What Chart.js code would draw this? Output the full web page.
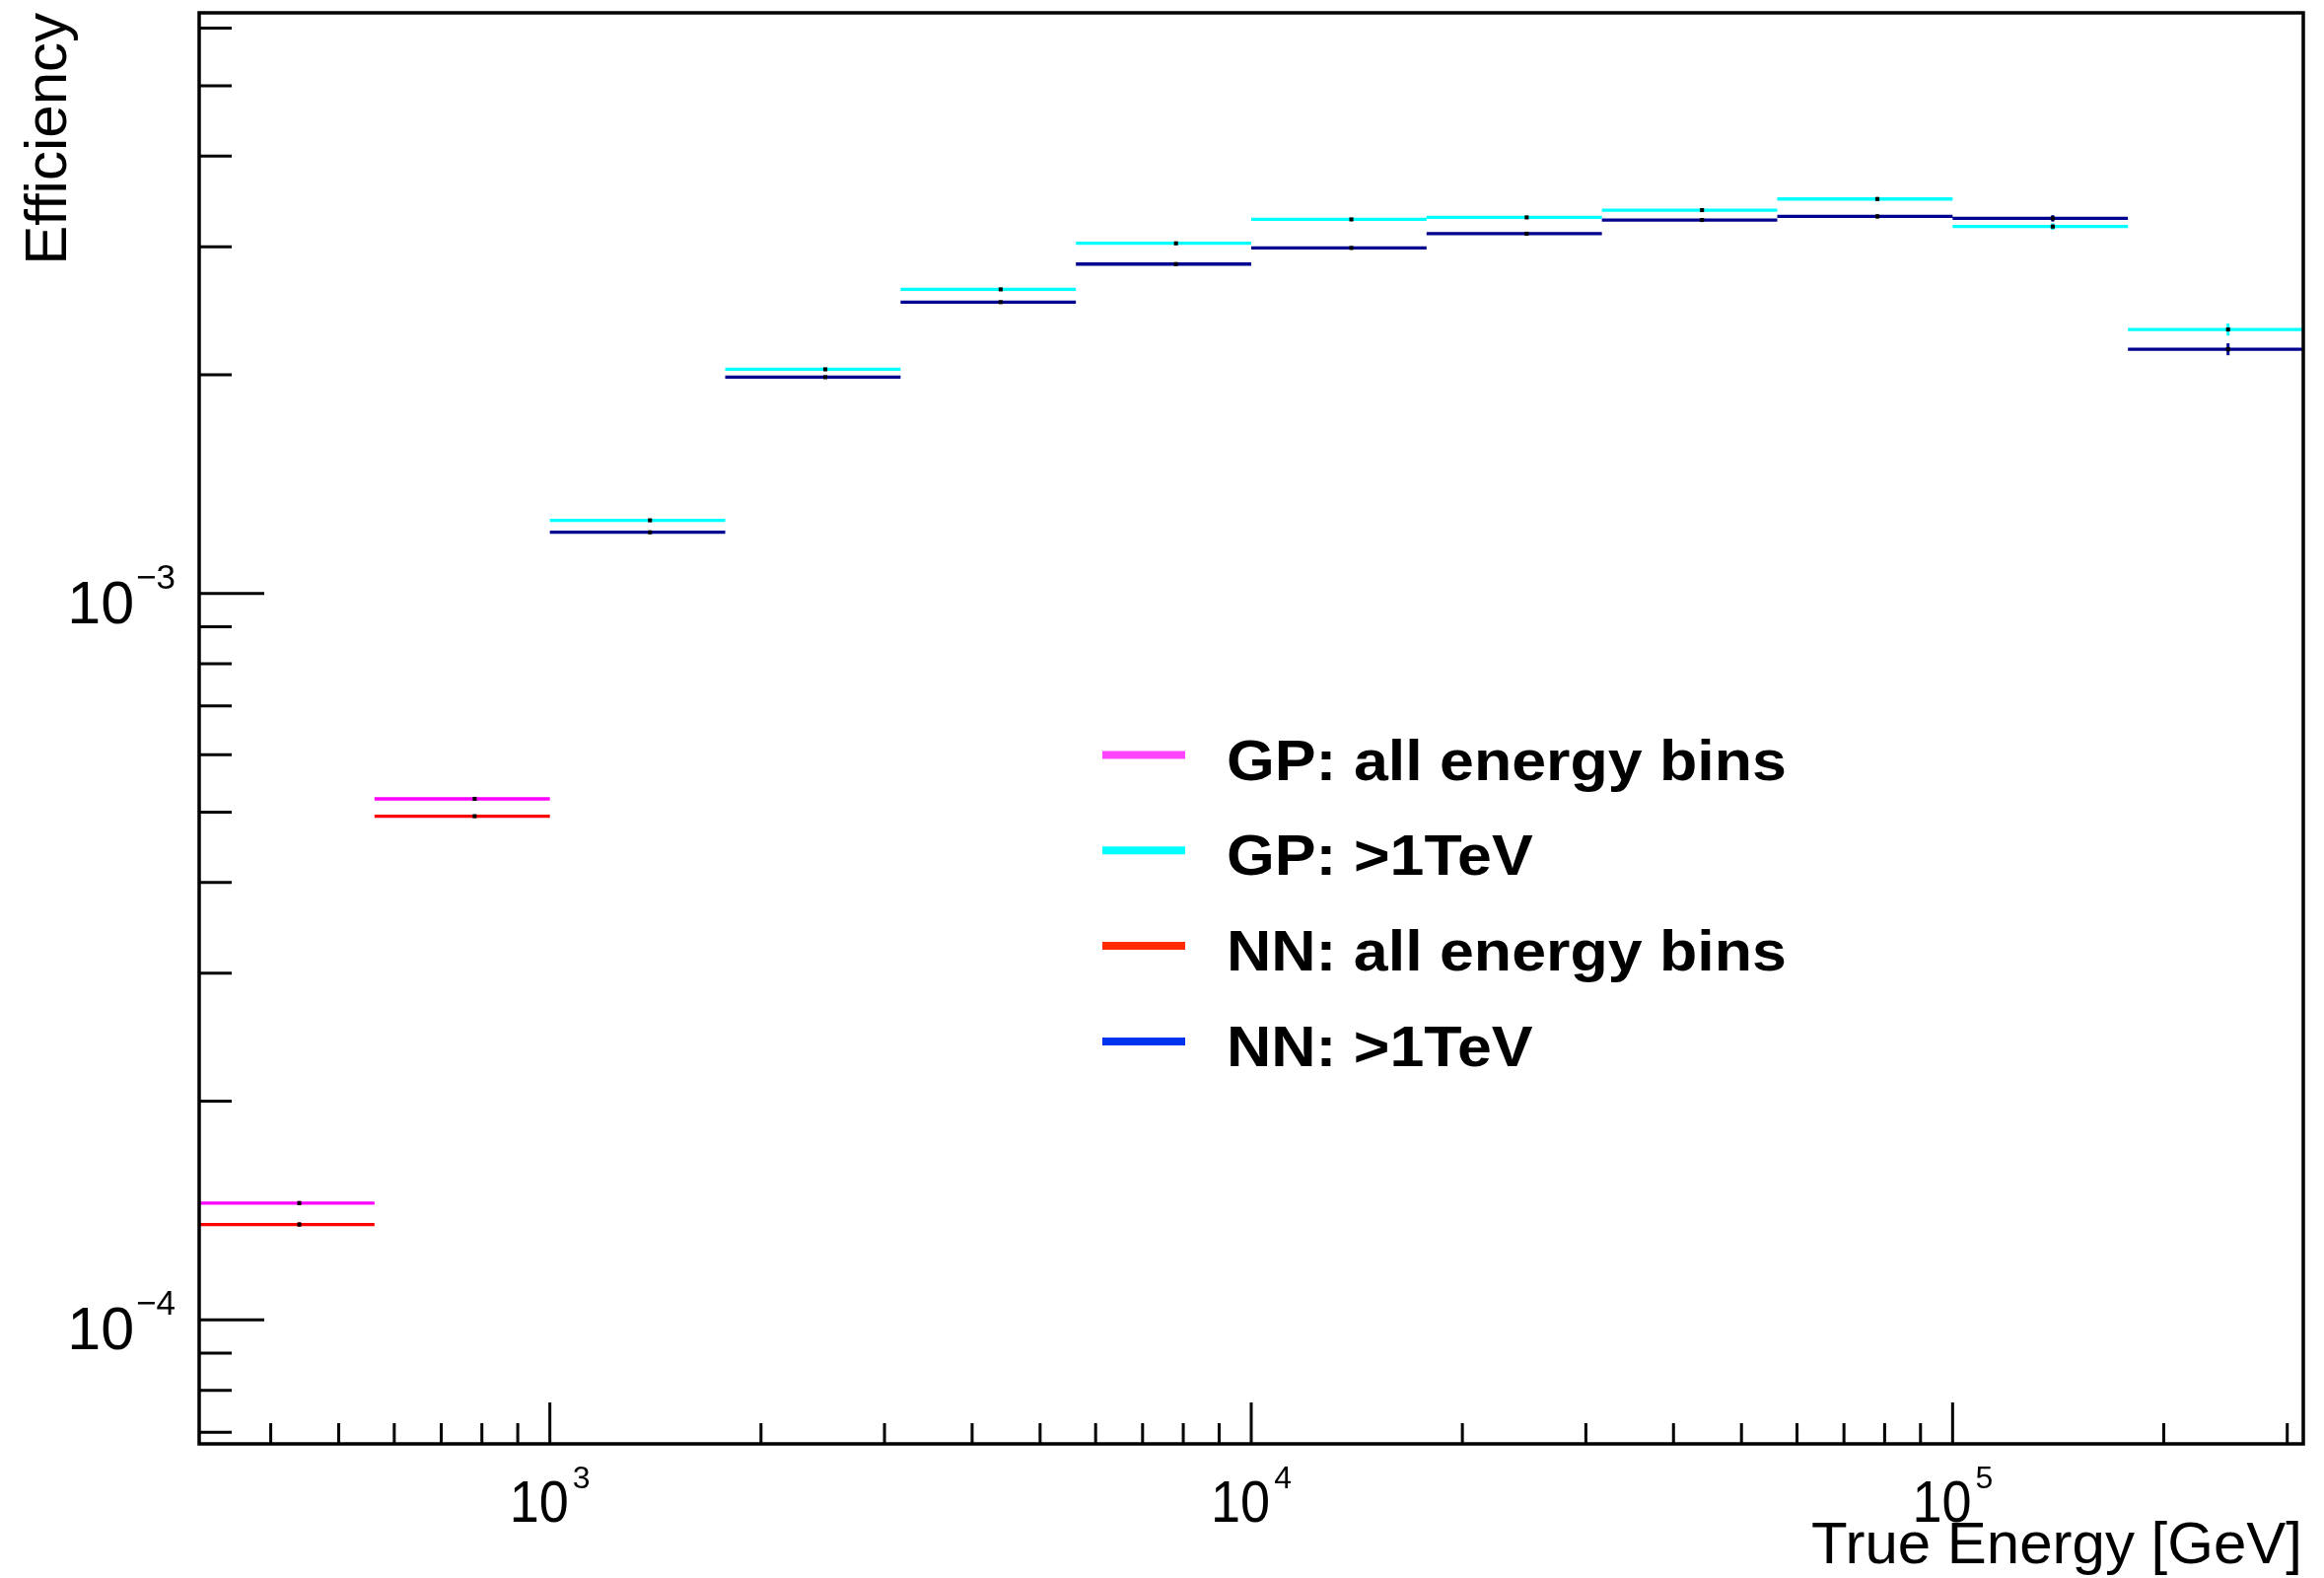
<!DOCTYPE html>
<html>
<head>
<meta charset="utf-8">
<title>Efficiency vs True Energy</title>
<script src="https://cdn.jsdelivr.net/npm/chart.js@4.4.1/dist/chart.umd.min.js"></script>
<style>
  html, body { margin: 0; padding: 0; background: #fff; }
  #wrap { width: 2357px; height: 1600px; }
</style>
</head>
<body>
<div id="wrap"><canvas id="effChart" width="2357" height="1600"></canvas></div>
<script>
// energy bin edges [GeV], quarter-decade bins
const binEdges = [316.23, 562.34, 1000, 1778.3, 3162.3, 5623.4, 10000, 17783, 31623, 56234, 100000, 177828, 316228];

// efficiency per bin (null = bin not filled for that selection)
const gpAll  = [1.448e-4, 5.215e-4, null, null, null, null, null, null, null, null, null, null];
const gpHigh = [null, null, 1.261e-3, 2.035e-3, 2.622e-3, 3.034e-3, 3.273e-3, 3.294e-3, 3.371e-3, 3.492e-3, 3.200e-3, 2.309e-3];
const nnAll  = [1.353e-4, 4.936e-4, null, null, null, null, null, null, null, null, null, null];
const nnHigh = [null, null, 1.214e-3, 1.985e-3, 2.518e-3, 2.841e-3, 2.990e-3, 3.128e-3, 3.267e-3, 3.304e-3, 3.284e-3, 2.169e-3];

// statistical errors
const gpAllErr  = [1.0e-6, 2.5e-6, null, null, null, null, null, null, null, null, null, null];
const gpHighErr = [null, null, 4e-6, 6e-6, 7e-6, 8e-6, 9e-6, 1.0e-5, 1.6e-5, 2.1e-5, 3.3e-5, 4.4e-5];
const nnAllErr  = [1.0e-6, 2.4e-6, null, null, null, null, null, null, null, null, null, null];
const nnHighErr = [null, null, 4e-6, 6e-6, 7e-6, 8e-6, 9e-6, 1.0e-5, 1.6e-5, 2.0e-5, 3.3e-5, 4.1e-5];

const legendLabels = ['GP: all energy bins', 'GP: >1TeV', 'NN: all energy bins', 'NN: >1TeV'];
const xTickExponents = [3, 4, 5];
const yTickExponents = [-4, -3];

const xRange = [316.23, 316228];
const yRange = [6.75e-5, 6.3e-3];

const FONT = '"Liberation Sans", Arial, Helvetica, sans-serif';

const series = [
    { values: gpAll,  errors: gpAllErr,  color: '#ff00ff', legendColor: '#ff44ff' },
    { values: gpHigh, errors: gpHighErr, color: '#00ffff', legendColor: '#00ffff' },
    { values: nnAll,  errors: nnAllErr,  color: '#ff0000', legendColor: '#ff2a00' },
    { values: nnHigh, errors: nnHighErr, color: '#000090', legendColor: '#0033ee' },
];

// horizontal segment per bin, broken by a null point
function stepPoints(values) {
    const pts = [];
    values.forEach((v, i) => {
        if (v == null) return;
        pts.push({ x: binEdges[i], y: v }, { x: binEdges[i + 1], y: v }, { x: binEdges[i + 1], y: null });
    });
    return pts;
}

function centerPoints(values) {
    const pts = [];
    values.forEach((v, i) => {
        if (v == null) return;
        pts.push({ x: (binEdges[i] + binEdges[i + 1]) / 2, y: v });
    });
    return pts;
}

const datasets = [];
series.forEach((s, k) => {
    datasets.push({
        label: legendLabels[k],
        data: stepPoints(s.values),
        borderColor: s.color,
        borderWidth: 3.3,
        pointRadius: 0,
        spanGaps: false,
        order: 2,
        errorValues: s.errors,
        seriesValues: s.values,
    });
});
series.forEach((s, k) => {
    datasets.push({
        label: legendLabels[k] + ' markers',
        data: centerPoints(s.values),
        showLine: false,
        pointStyle: 'rect',
        pointRadius: 2.9,
        pointBorderWidth: 0,
        pointBackgroundColor: '#000',
        order: 1,
    });
});

// vertical error bars, drawn right after each step histogram
const errorBars = {
    id: 'errorBars',
    afterDatasetDraw(chart, args) {
        const ds = chart.data.datasets[args.index];
        if (!ds.errorValues) return;
        const { ctx, scales: { x, y } } = chart;
        ctx.save();
        ctx.strokeStyle = ds.borderColor;
        ctx.lineWidth = 3;
        ds.seriesValues.forEach((v, i) => {
            const e = ds.errorValues[i];
            if (v == null || e == null) return;
            const px = x.getPixelForValue((binEdges[i] + binEdges[i + 1]) / 2);
            ctx.beginPath();
            ctx.moveTo(px, y.getPixelForValue(v - e));
            ctx.lineTo(px, y.getPixelForValue(v + e));
            ctx.stroke();
        });
        ctx.restore();
    }
};

// ROOT-style frame, inward ticks, power-of-ten labels, titles and legend
const frameAndLabels = {
    id: 'frameAndLabels',
    afterDatasetsDraw(chart) {
        const { ctx, chartArea: a, scales: { x, y } } = chart;
        ctx.save();
        ctx.strokeStyle = '#000';
        ctx.fillStyle = '#000';

        ctx.lineWidth = 3;
        ctx.beginPath();
        for (let e = 2; e <= 5; e++) {
            for (let m = 1; m <= 9; m++) {
                const v = m * Math.pow(10, e);
                if (v <= x.min || v >= x.max) continue;
                const px = x.getPixelForValue(v);
                ctx.moveTo(px, a.bottom);
                ctx.lineTo(px, a.bottom - (m === 1 ? 42 : 21));
            }
        }
        for (let e = -5; e <= -3; e++) {
            for (let m = 1; m <= 9; m++) {
                const v = m * Math.pow(10, e);
                if (v <= y.min || v >= y.max) continue;
                const py = y.getPixelForValue(v);
                ctx.moveTo(a.left, py);
                ctx.lineTo(a.left + (m === 1 ? 66 : 33), py);
            }
        }
        ctx.stroke();

        ctx.lineWidth = 3.5;
        ctx.strokeRect(a.left, a.top, a.right - a.left, a.bottom - a.top);

        ctx.textAlign = 'left';
        ctx.textBaseline = 'alphabetic';

        // x tick labels: 10^n
        xTickExponents.forEach(n => {
            const px = x.getPixelForValue(Math.pow(10, n));
            ctx.font = '60px ' + FONT;
            const w10 = ctx.measureText('10').width * 0.9;
            ctx.font = '32px ' + FONT;
            const sup = String(n);
            const ws = ctx.measureText(sup).width;
            const x0 = px - (w10 + 4 + ws) / 2;
            ctx.save();
            ctx.translate(x0, 1543);
            ctx.scale(0.9, 1);
            ctx.font = '60px ' + FONT;
            ctx.fillText('10', 0, 0);
            ctx.restore();
            ctx.font = '32px ' + FONT;
            ctx.fillText(sup, x0 + w10 + 4, 1509);
        });

        // y tick labels: 10^-n
        yTickExponents.forEach(n => {
            const py = y.getPixelForValue(Math.pow(10, n));
            const sup = (n < 0 ? '\u2212' : '') + Math.abs(n);
            ctx.font = '35px ' + FONT;
            const ws = ctx.measureText(sup).width;
            ctx.font = '61px ' + FONT;
            const w10 = ctx.measureText('10').width;
            const x0 = 178 - ws - 2 - w10;
            ctx.fillText('10', x0, py + 30);
            ctx.font = '35px ' + FONT;
            ctx.fillText(sup, x0 + w10 + 2, py - 5);
        });

        // axis titles
        ctx.font = '60px ' + FONT;
        ctx.textAlign = 'right';
        ctx.fillText('True Energy [GeV]', 2335, 1585);
        ctx.save();
        ctx.translate(67, a.top);
        ctx.rotate(-Math.PI / 2);
        ctx.fillText('Efficiency', 0, 0);
        ctx.restore();

        // legend
        ctx.textAlign = 'left';
        legendLabels.forEach((label, k) => {
            const rowY = 765.5 + k * 96.8;
            ctx.strokeStyle = series[k].legendColor;
            ctx.lineWidth = 8;
            ctx.beginPath();
            ctx.moveTo(1118, rowY);
            ctx.lineTo(1202, rowY);
            ctx.stroke();
            ctx.save();
            ctx.translate(1244, rowY + 25);
            ctx.scale(1.1, 1);
            ctx.font = 'bold 57px ' + FONT;
            ctx.fillStyle = '#000';
            ctx.fillText(label, 0, 0);
            ctx.restore();
        });

        ctx.restore();
    }
};

new Chart(document.getElementById('effChart'), {
    type: 'line',
    data: { datasets: datasets },
    options: {
        responsive: false,
        animation: false,
        devicePixelRatio: 1,
        events: [],
        layout: {
            padding: { left: 202, top: 13, right: 21, bottom: 136 }
        },
        plugins: {
            legend: { display: false },
            tooltip: { enabled: false }
        },
        scales: {
            x: {
                type: 'logarithmic',
                min: xRange[0],
                max: xRange[1],
                display: false
            },
            y: {
                type: 'logarithmic',
                min: yRange[0],
                max: yRange[1],
                display: false
            }
        }
    },
    plugins: [errorBars, frameAndLabels]
});
</script>
</body>
</html>
